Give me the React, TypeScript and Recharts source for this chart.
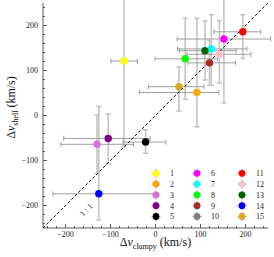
import React from 'react';
import { ScatterChart, Scatter, XAxis, YAxis, ErrorBar, ReferenceLine, ReferenceDot } from 'recharts';

// clump ids, colours and values (10 has no point)
const ids = [1, 2, 3, 4, 5, 6, 7, 8, 9, 10, 11, 12, 13, 14, 15];
const colors = ['#ffff00', '#ffa500', '#da70d6', '#800080', '#000000', '#ff00ff', '#00ffff', '#00ff00', '#a52a2a', '#808080', '#ff0000', '#ffc0cb', '#006400', '#0000ff', '#daa520'];
const dvClumpy = [-70, 92, -130, -105, -22, 152, 124, 66, 120, null, 194, 142, 110, -126, 52];
const dvShell = [121, 51, -64, -51, -59, 170, 148, 126, 117, null, 186, 136, 144, -174, 64];
// [low, high] errors
const errClumpy = [[29, 30], [128, 49], [80, 81], [99, 93], [50, 45], [104, 104], [75, 79], [67, 72], [48, 58], null, [64, 40], [72, 70], [57, 69], [102, 124], [68, 56]];
const errShell = [[191, 191], [76, 165], [65, 65], [56, 54], [25, 27], [142, 142], [81, 76], [90, 90], [50, 50], null, [59, 38], [64, 75], [65, 66], [58, 194], [54, 44]];

const axisTicks = [-240, -220, -200, -180, -160, -140, -120, -100, -80, -60, -40, -20, 0, 20, 40, 60, 80, 100, 120, 140, 160, 180, 200, 220, 240];
const majorTicks = [-200, -100, 0, 100, 200];

const serif = '"Liberation Serif", "Times New Roman", serif';
const frameColor = '#333';

const points = ids
    .map((id, i) => ({
        id,
        x: dvClumpy[i],
        y: dvShell[i],
        ex: errClumpy[i],
        ey: errShell[i],
        color: colors[i],
    }))
    .filter(p => p.x !== null && p.y !== null);

const fmt = (v: number) => (v < 0 ? `\u2212${Math.abs(v)}` : `${v}`);
const isMajor = (v: number) => majorTicks.includes(v);

const BottomTick = (props: any) => {
    const { x, y, payload } = props;
    const m = isMajor(payload.value);
    return (
        <g>
            <line x1={x} x2={x} y1={y} y2={y - (m ? 4 : 2)} stroke={frameColor} strokeWidth={0.8} />
            {m && (
                <text x={x} y={y + 8.5} textAnchor="middle" fontSize={8} fontFamily={serif} fill="#222">
                    {fmt(payload.value)}
                </text>
            )}
        </g>
    );
};

const TopTick = (props: any) => {
    const { x, y, payload } = props;
    const m = isMajor(payload.value);
    return <line x1={x} x2={x} y1={y} y2={y + (m ? 4 : 2)} stroke={frameColor} strokeWidth={0.8} />;
};

const LeftTick = (props: any) => {
    const { x, y, payload } = props;
    const m = isMajor(payload.value);
    return (
        <g>
            <line x1={x} x2={x + (m ? 4 : 2)} y1={y} y2={y} stroke={frameColor} strokeWidth={0.8} />
            {m && (
                <text x={x - 5} y={y + 2.8} textAnchor="end" fontSize={8} fontFamily={serif} fill="#222">
                    {fmt(payload.value)}
                </text>
            )}
        </g>
    );
};

const RightTick = (props: any) => {
    const { x, y, payload } = props;
    const m = isMajor(payload.value);
    return <line x1={x} x2={x - (m ? 4 : 2)} y1={y} y2={y} stroke={frameColor} strokeWidth={0.8} />;
};

const XLabel = (props: any) => {
    const vb = props.viewBox || { x: 43, y: 228, width: 225, height: 29 };
    const cx = vb.x + vb.width / 2;
    return (
        <text x={cx} y={vb.y + 18} textAnchor="middle" fontSize={12} fontFamily={serif} fill="#111">
            Δ<tspan fontStyle="italic">v</tspan>
            <tspan fontSize={8} dy={2.5}>clumpy</tspan>
            <tspan dy={-2.5}> (km/s)</tspan>
        </text>
    );
};

const YLabel = (props: any) => {
    const vb = props.viewBox || { x: 0, y: 3, width: 43, height: 225 };
    const lx = vb.x + 15;
    const ly = vb.y + vb.height / 2 - 8;
    return (
        <text
            x={lx}
            y={ly}
            transform={`rotate(-90, ${lx}, ${ly})`}
            textAnchor="middle"
            fontSize={12}
            fontFamily={serif}
            fill="#111"
        >
            Δ<tspan fontStyle="italic">v</tspan>
            <tspan fontSize={8} dy={2.5}>shell</tspan>
            <tspan dy={-2.5}> (km/s)</tspan>
        </text>
    );
};

const OneToOne = (props: any) => {
    const vb = props.viewBox || { x: 0, y: 0, width: 0, height: 0 };
    const cx = vb.x + vb.width / 2;
    const cy = vb.y + vb.height / 2;
    return (
        <text
            x={cx}
            y={cy}
            transform={`rotate(-45, ${cx}, ${cy})`}
            textAnchor="middle"
            fontSize={8}
            fontFamily={serif}
            fill="#333"
            stroke="none"
        >
            1 : 1
        </text>
    );
};

const Dot = (props: any) => {
    const { cx, cy, payload } = props;
    return <circle cx={cx} cy={cy} r={3.7} fill={payload.color} />;
};

const Legend = () => {
    const rowY = [173.3, 184.1, 194.9, 205.7, 216.5];
    const colX = [156, 197, 242];
    return (
        <svg width={274} height={257} style={{ position: 'absolute', left: 0, top: 0, pointerEvents: 'none' }}>
            {ids.map((id, i) => {
                const cx = colX[Math.floor(i / 5)];
                const cy = rowY[i % 5];
                return (
                    <g key={id}>
                        <line x1={cx - 4.5} x2={cx + 4.5} y1={cy} y2={cy} stroke="#aaa" strokeWidth={1} />
                        <line x1={cx} x2={cx} y1={cy - 4.5} y2={cy + 4.5} stroke="#bbb" strokeWidth={1.5} />
                        <circle cx={cx} cy={cy} r={3.4} fill={colors[i]} />
                        <text x={cx + 14} y={cy + 2.8} fontSize={8} fontFamily={serif} fill="#222">
                            {id}
                        </text>
                    </g>
                );
            })}
        </svg>
    );
};

export default function App() {
    return (
        <div style={{ position: 'absolute', left: 0, top: 0, width: 274, height: 257, background: '#fff' }}>
            <ScatterChart width={274} height={257} margin={{ top: 3, right: 6, left: 0, bottom: 0 }}>
                <XAxis
                    type="number"
                    dataKey="x"
                    domain={[-250, 250]}
                    allowDataOverflow
                    ticks={axisTicks}
                    interval={0}
                    height={29}
                    tickSize={0}
                    tickMargin={0}
                    tickLine={false}
                    axisLine={{ stroke: frameColor, strokeWidth: 0.8 }}
                    tick={BottomTick}
                    label={<XLabel />}
                />
                <XAxis
                    xAxisId="top"
                    orientation="top"
                    type="number"
                    domain={[-250, 250]}
                    allowDataOverflow
                    ticks={axisTicks}
                    interval={0}
                    height={0}
                    tickSize={0}
                    tickMargin={0}
                    tickLine={false}
                    axisLine={{ stroke: frameColor, strokeWidth: 0.8 }}
                    tick={TopTick}
                />
                <YAxis
                    type="number"
                    dataKey="y"
                    domain={[-250, 250]}
                    allowDataOverflow
                    ticks={axisTicks}
                    interval={0}
                    width={43}
                    tickSize={0}
                    tickMargin={0}
                    tickLine={false}
                    axisLine={{ stroke: frameColor, strokeWidth: 0.8 }}
                    tick={LeftTick}
                    label={<YLabel />}
                />
                <YAxis
                    yAxisId="right"
                    orientation="right"
                    type="number"
                    domain={[-250, 250]}
                    allowDataOverflow
                    ticks={axisTicks}
                    interval={0}
                    width={0}
                    tickSize={0}
                    tickMargin={0}
                    tickLine={false}
                    axisLine={{ stroke: frameColor, strokeWidth: 0.8 }}
                    tick={RightTick}
                />
                {/* error bars first so every dot sits on top */}
                <Scatter data={points} shape={() => <g />} isAnimationActive={false}>
                    <ErrorBar dataKey="ey" direction="y" width={2.5} stroke="#c4c4c4" strokeWidth={1.6} isAnimationActive={false} />
                    <ErrorBar dataKey="ex" direction="x" width={2.5} stroke="#a0a0a0" strokeWidth={1} isAnimationActive={false} />
                </Scatter>
                <ReferenceLine
                    segment={[{ x: -250, y: -250 }, { x: 250, y: 250 }]}
                    stroke="#111"
                    strokeWidth={1}
                    strokeDasharray="3 2"
                    ifOverflow="visible"
                />
                <ReferenceDot x={-150} y={-214} r={0.5} fill="none" stroke="none" label={<OneToOne />} />
                <Scatter data={points} shape={Dot} isAnimationActive={false} />
            </ScatterChart>
            <Legend />
        </div>
    );
}
